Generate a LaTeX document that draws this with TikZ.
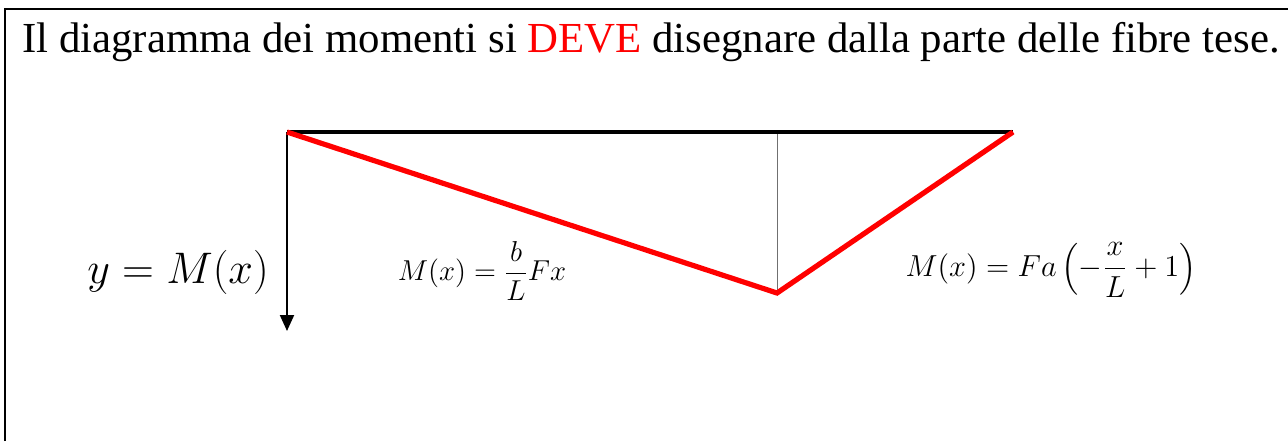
\RequirePackage{fix-cm}
\documentclass[tikz,border=0pt]{standalone}
\usepackage{amsmath}
\usepackage{fontspec}
\setmainfont{Liberation Serif}
\usetikzlibrary{arrows.meta}
\definecolor{Ink}{HTML}{000000}
\definecolor{Moment}{HTML}{FF0000}
\definecolor{Guide}{HTML}{707070}
\tikzset{
  frameline/.style={draw=Ink, line width=1.2pt},
  beam/.style={draw=Ink, line width=2pt},
  moment/.style={draw=Moment, line width=2.6pt, line join=miter},
  guide/.style={draw=Guide, line width=0.5pt},
  axis/.style={-{Triangle[length=8pt, width=7pt]}, draw=Ink, line width=1pt},
  label/.style={inner sep=0pt, font=\fontsize{14.4}{17}\selectfont},
  biglabel/.style={inner sep=0pt, font=\fontsize{22.1}{26}\selectfont}
}

\begin{document}
\begin{tikzpicture}[x=0.5pt,y=-0.5pt]
    \useasboundingbox (0,0) rectangle (1288,441);
    % cornice
    \draw[frameline] (5,441) -- (5,9) -- (1290,9);
    \node[anchor=base west, inner sep=0pt, font=\fontsize{21.4}{25}\selectfont] (title) at (22,52)
      {Il diagramma dei momenti si \textcolor{Moment}{DEVE} disegnare dalla parte delle fibre tese.};

    % trave e diagramma
    \coordinate (A) at (287,132);
    \coordinate (B) at (1013,132);
    \coordinate (P) at (777,132);
    \coordinate (C) at (777,293);
    \coordinate (tip) at (287,331);
    \draw[guide] (P) -- (C);
    \draw[axis] (A) -- (tip);
    \draw[beam] (A) -- (B);
    \draw[moment] (A) -- (C) -- (B);

    \node[biglabel] (yM) at (178,272) {$y=M(x)$};
    \node[label] (left) at (482,271) {$M(x)=\dfrac{b}{L}Fx$};
    \node[label, font=\fontsize{15.2}{18}\selectfont] (right) at (1051,270) {$M(x)=Fa\left(-\dfrac{x}{L}+1\right)$};
\end{tikzpicture}
\end{document}
